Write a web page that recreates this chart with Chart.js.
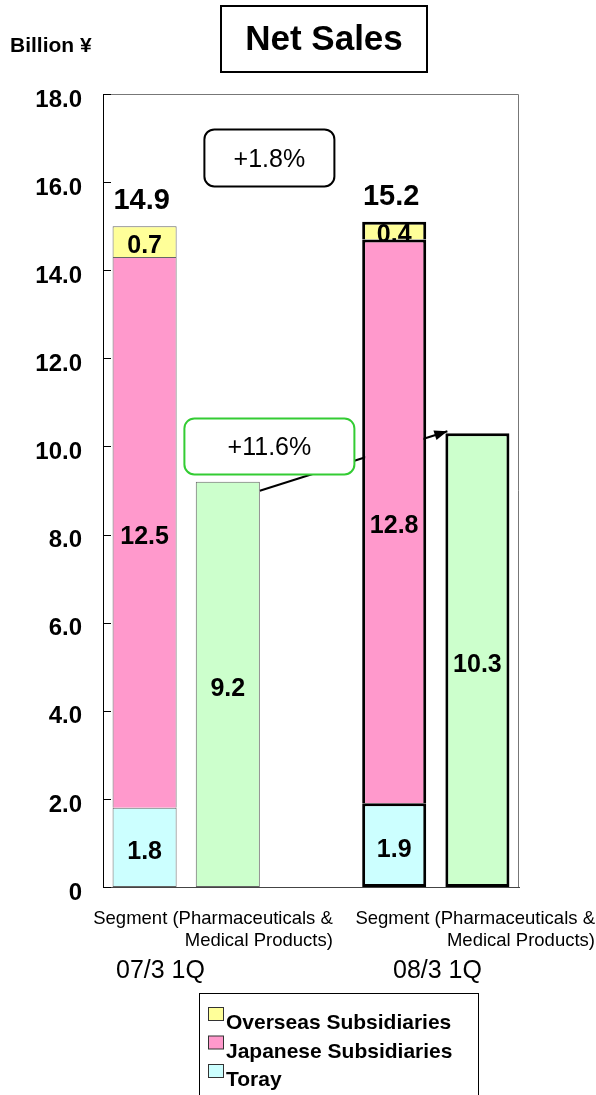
<!DOCTYPE html>
<html lang="en">
<head>
<meta charset="UTF-8" />
<title>Net Sales</title>
<script src="https://cdn.jsdelivr.net/npm/chart.js"></script>
<style>
  body { margin:0; background:#fff; }
</style>
</head>
<body>
<canvas id="chart" width="596" height="1095"></canvas>
<script>
// ---- data (5 slots: 07/3 stack, 07/3 segment, gap, 08/3 stack, 08/3 segment) ----
const slots        = ['07/3 1Q', '07/3 Segment', '', '08/3 1Q', '08/3 Segment'];
const toray        = [1.8, null, null, 1.9, null];
const japanSubs    = [12.5, null, null, 12.8, null];
const overseasSubs = [0.7, null, null, 0.4, null];
const segment      = [null, 9.2, null, null, 10.3];
const totals       = [14.9, null, null, 15.2, null];
const periodLabels = ['07/3 1Q', '08/3 1Q'];
const segmentLines = ['Segment (Pharmaceuticals &', 'Medical Products)'];
const growth       = ['+1.8%', '+11.6%'];

const FONT = "'Liberation Sans', Arial, sans-serif";
const colors = { toray:'#CCFFFF', japan:'#FF99CC', overseas:'#FFFF99', segment:'#CCFFCC' };

// group 2 bars get the heavy black outline
const bw  = ctx => ctx.dataIndex >= 3 ? 3 : 1;
const bc  = ctx => ctx.dataIndex >= 3 ? '#000' : '#666';

function roundRect(c, x, y, w, h, r) {
  c.beginPath();
  c.moveTo(x + r, y);
  c.arcTo(x + w, y, x + w, y + h, r);
  c.arcTo(x + w, y + h, x, y + h, r);
  c.arcTo(x, y + h, x, y, r);
  c.arcTo(x, y, x + w, y, r);
  c.closePath();
}

const decor = {
  id: 'decor',
  beforeDatasetsDraw(chart) {
    // arrow from 07/3 segment bar to 08/3 segment bar (behind bars)
    const c = chart.ctx;
    const meta = chart.getDatasetMeta(3);
    const a = meta.data[1], b = meta.data[4];
    const x1 = a.x + a.width / 2, y1 = a.y + 9;
    const x2 = b.x - b.width / 2 + 2, y2 = b.y - 2;
    c.save();
    c.strokeStyle = '#000'; c.fillStyle = '#000'; c.lineWidth = 2;
    c.beginPath(); c.moveTo(x1, y1); c.lineTo(x2, y2); c.stroke();
    const ang = Math.atan2(y2 - y1, x2 - x1);
    c.beginPath();
    c.moveTo(x2, y2);
    c.lineTo(x2 - 13 * Math.cos(ang) + 5 * Math.sin(ang), y2 - 13 * Math.sin(ang) - 5 * Math.cos(ang));
    c.lineTo(x2 - 13 * Math.cos(ang) - 5 * Math.sin(ang), y2 - 13 * Math.sin(ang) + 5 * Math.cos(ang));
    c.closePath(); c.fill();
    c.restore();
  },
  afterDatasetsDraw(chart) {
    const c = chart.ctx, area = chart.chartArea;
    const xs = chart.scales.x, ys = chart.scales.y;
    c.save();
    // plot frame + inward ticks
    c.strokeStyle = '#777'; c.lineWidth = 1;
    c.beginPath();
    c.moveTo(area.left, area.top + 0.5); c.lineTo(area.right - 0.5, area.top + 0.5);
    c.lineTo(area.right - 0.5, area.bottom);
    c.stroke();
    c.strokeStyle = '#000';
    ys.ticks.forEach(t => {
      const y = Math.round(ys.getPixelForValue(t.value)) + 0.5;
      c.beginPath(); c.moveTo(area.left, y); c.lineTo(area.left + 8, y); c.stroke();
    });

    // values inside segments
    c.fillStyle = '#000';
    c.textAlign = 'center'; c.textBaseline = 'middle';
    c.font = 'bold 25px ' + FONT;
    chart.data.datasets.forEach((ds, i) => {
      chart.getDatasetMeta(i).data.forEach((el, j) => {
        const v = ds.data[j];
        if (v == null) return;
        c.fillText(v.toFixed(1), el.x, (el.y + el.base) / 2 + 5);
      });
    });
    // totals above stacks
    c.font = 'bold 29px ' + FONT;
    c.textBaseline = 'alphabetic';
    const top = chart.getDatasetMeta(2).data;
    totals.forEach((t, j) => {
      if (t == null) return;
      c.fillText(t.toFixed(1), top[j].x - 3, top[j].y - 17);
    });

    // growth boxes
    const bx = xs.getPixelForValue(1.5);
    const boxes = [
      { text: growth[0], y: ys.getPixelForValue(16.55), w: 130, h: 57, col: '#000' },
      { text: growth[1], y: ys.getPixelForValue(10.0),  w: 170, h: 56, col: '#33CC33' }
    ];
    c.font = '25px ' + FONT;
    c.textBaseline = 'middle';
    boxes.forEach(b => {
      roundRect(c, bx - b.w / 2, b.y - b.h / 2, b.w, b.h, 10);
      c.fillStyle = '#fff'; c.fill();
      c.lineWidth = 2; c.strokeStyle = b.col; c.stroke();
      c.fillStyle = '#000';
      c.fillText(b.text, bx, b.y + 2);
    });
    c.restore();
  },
  afterDraw(chart) {
    const c = chart.ctx;
    c.save();
    c.fillStyle = '#000';
    // title box
    c.lineWidth = 2; c.strokeStyle = '#000';
    c.strokeRect(221, 6, 206, 66);
    c.font = 'bold 35px ' + FONT;
    c.textAlign = 'center'; c.textBaseline = 'middle';
    c.fillText('Net Sales', 324, 40);
    c.font = 'bold 21px ' + FONT;
    c.textAlign = 'left';
    c.fillText('Billion \u00A5', 10, 46);

    // category texts under the axis
    const xs = chart.scales.x;
    const rights = [xs.getPixelForValue(1) + 105, 595];
    const lefts  = [116, 393];
    rights.forEach((r, i) => {
      c.textAlign = 'right'; c.textBaseline = 'alphabetic';
      c.font = '18.5px ' + FONT;
      c.fillText(segmentLines[0], r, 924);
      c.fillText(segmentLines[1], r, 946);
      c.textAlign = 'left';
      c.font = '25px ' + FONT;
      c.fillText(periodLabels[i], lefts[i], 978);
    });

    // legend (top series first)
    c.lineWidth = 1;
    c.strokeRect(199.5, 993.5, 279, 120);
    c.font = 'bold 21px ' + FONT;
    c.textAlign = 'left'; c.textBaseline = 'alphabetic';
    [2, 1, 0].forEach((di, k) => {
      const ds = chart.data.datasets[di];
      const base = 1029 + k * 28.5;
      c.fillStyle = ds.backgroundColor;
      c.fillRect(208.5, base - 21.5, 15, 13);
      c.strokeStyle = '#333';
      c.strokeRect(208.5, base - 21.5, 15, 13);
      c.fillStyle = '#000';
      c.fillText(ds.label, 226, base);
    });
    c.restore();
  }
};

const mk = (label, data, color, skip) => ({
  label, data,
  backgroundColor: color,
  borderColor: bc,
  borderWidth: bw,
  borderSkipped: skip,
  stack: 'net'
});

new Chart(document.getElementById('chart'), {
  type: 'bar',
  data: {
    labels: slots,
    datasets: [
      mk('Toray', toray, colors.toray, false),
      mk('Japanese Subsidiaries', japanSubs, colors.japan, 'start'),
      mk('Overseas Subsidiaries', overseasSubs, colors.overseas, 'start'),
      mk('Segment', segment, colors.segment, false)
    ]
  },
  options: {
    responsive: false,
    animation: false,
    events: [],
    layout: { padding: { top: 94, right: 77, left: 0, bottom: 0 } },
    datasets: { bar: { categoryPercentage: 1, barPercentage: 0.77 } },
    plugins: { legend: { display: false }, tooltip: { enabled: false } },
    scales: {
      x: {
        stacked: true,
        grid: { display: false },
        border: { color: '#444', width: 1 },
        ticks: { display: false },
        afterFit: s => { s.height = 208; }
      },
      y: {
        stacked: true,
        min: 0, max: 18,
        grid: { display: false, drawTicks: false },
        border: { color: '#000', width: 1 },
        ticks: {
          stepSize: 2,
          padding: 21,
          labelOffset: 6,
          color: '#000',
          font: { family: FONT, size: 24, weight: 'bold' },
          callback: v => v === 0 ? '0' : v.toFixed(1)
        },
        afterFit: s => { s.width = 103; }
      }
    }
  },
  plugins: [decor]
});
</script>
</body>
</html>
